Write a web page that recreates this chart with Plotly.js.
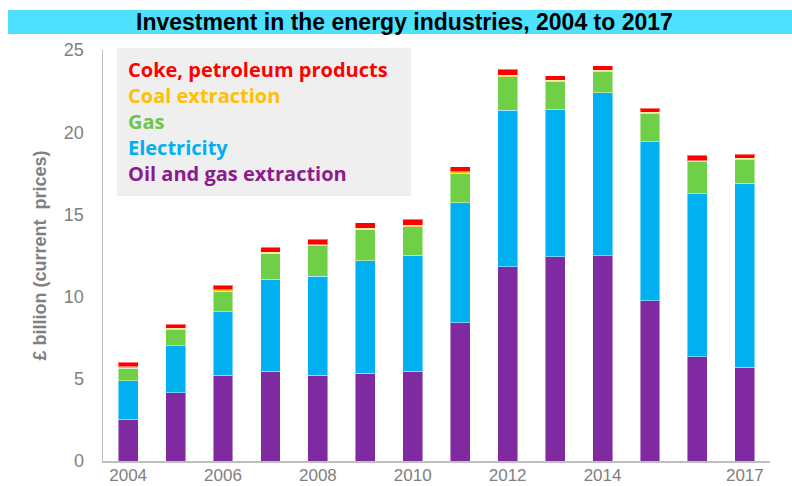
<!DOCTYPE html>
<html>
<head>
<meta charset="utf-8">
<script src="https://cdn.plot.ly/plotly-3.0.1.min.js"></script>
<style>html,body{margin:0;padding:0;background:#fff;}#chart{width:792px;height:486px;}</style>
</head>
<body>
<div id="chart"></div>
<script>
const years = [2004,2005,2006,2007,2008,2009,2010,2011,2012,2013,2014,2015,2016,2017];
const oilGas = [2.54,4.14,5.23,5.47,5.23,5.33,5.47,8.41,11.82,12.43,12.49,9.75,6.34,5.70];
const electricity = [2.33,2.87,3.85,5.58,6.02,6.84,7.06,7.29,9.53,8.98,9.91,9.67,9.92,11.21];
const gas = [0.77,0.98,1.26,1.58,1.83,1.92,1.72,1.80,2.03,1.66,1.28,1.71,1.93,1.42];
const coal = [0.08,0.08,0.08,0.08,0.08,0.08,0.08,0.08,0.08,0.08,0.08,0.08,0.08,0.08];
const coke = [0.28,0.24,0.28,0.29,0.34,0.33,0.39,0.32,0.37,0.29,0.27,0.24,0.33,0.26];
const xTicks = [2004,2006,2008,2010,2012,2014,2017];
const yTicks = [0,5,10,15,20,25];

const seriesNames = ["Oil and gas extraction","Electricity","Gas","Coal extraction","Coke, petroleum products"];
const seriesData = [oilGas, electricity, gas, coal, coke];
const barColors = ["#7F2AA1","#00B0F0","#6FCF47","#FFC000","#FF0000"];
const textColors = ["#8E1B8E","#00B0F0","#6DC745","#FFC000","#FF0000"];

const traces = seriesNames.map((n,i)=>({
  type:'bar', name:n, x:years, y:seriesData[i],
  marker:{color:barColors[i], line:{color:'rgba(255,255,255,0.45)', width:1}},
  hoverinfo:'x+y+name'
}));

const legendAnn = seriesNames.map((n,i)=>({
  text:'<b>'+n+'</b>', xref:'paper', yref:'paper', x:(126-103)/667, y:(461-(173-26*i))/411,
  xanchor:'left', yanchor:'middle', showarrow:false,
  font:{family:'"Open Sans", Lato, sans-serif', size:20, color:textColors[i]}
}));

const layout = {
  width:792, height:486,
  margin:{l:103, r:22, t:50, b:25},
  paper_bgcolor:'#fff', plot_bgcolor:'#fff',
  barmode:'stack', bargap:0.58, showlegend:false,
  xaxis:{range:[2003.47,2017.53], tickvals:xTicks, ticktext:xTicks.map(String),
    showgrid:false, zeroline:false, showline:true, linecolor:'#BFBFBF', linewidth:1.5,
    ticks:'', ticklabelstandoff:-2,
    tickfont:{family:'Liberation Sans, Arial, sans-serif', size:17, color:'#808080'}},
  yaxis:{range:[0,25], tickvals:yTicks, showgrid:false, zeroline:false, showline:true,
    linecolor:'#BFBFBF', linewidth:1.5, ticks:'', ticklabelstandoff:14,
    tickfont:{family:'Liberation Sans, Arial, sans-serif', size:18, color:'#808080'},
    title:{text:'<b>£ billion (current  prices)</b>', standoff:12,
      font:{family:'Liberation Sans, Arial, sans-serif', size:18, color:'#808080'}}},
  shapes:[
    {type:'rect', xref:'paper', yref:'paper', x0:(8-103)/667, x1:(792-103)/667,
     y0:(461-34)/411, y1:(461-10)/411, fillcolor:'#4DE1FF', line:{width:0}, layer:'below'},
    {type:'rect', xref:'paper', yref:'paper', x0:(117-103)/667, x1:(411-103)/667,
     y0:(461-196)/411, y1:(461-48)/411, fillcolor:'#EFEFEF', line:{width:0}, layer:'below'}
  ],
  annotations:[
    {text:'<b>Investment in the energy industries, 2004 to 2017</b>', xref:'paper', yref:'paper',
     x:(404-103)/667, y:(461-22)/411, xanchor:'center', yanchor:'middle', showarrow:false,
     font:{family:'Liberation Sans, Arial, sans-serif', size:23, color:'#000'}}
  ].concat(legendAnn)
};

Plotly.newPlot('chart', traces, layout, {displayModeBar:false, staticPlot:true});
</script>
</body>
</html>
